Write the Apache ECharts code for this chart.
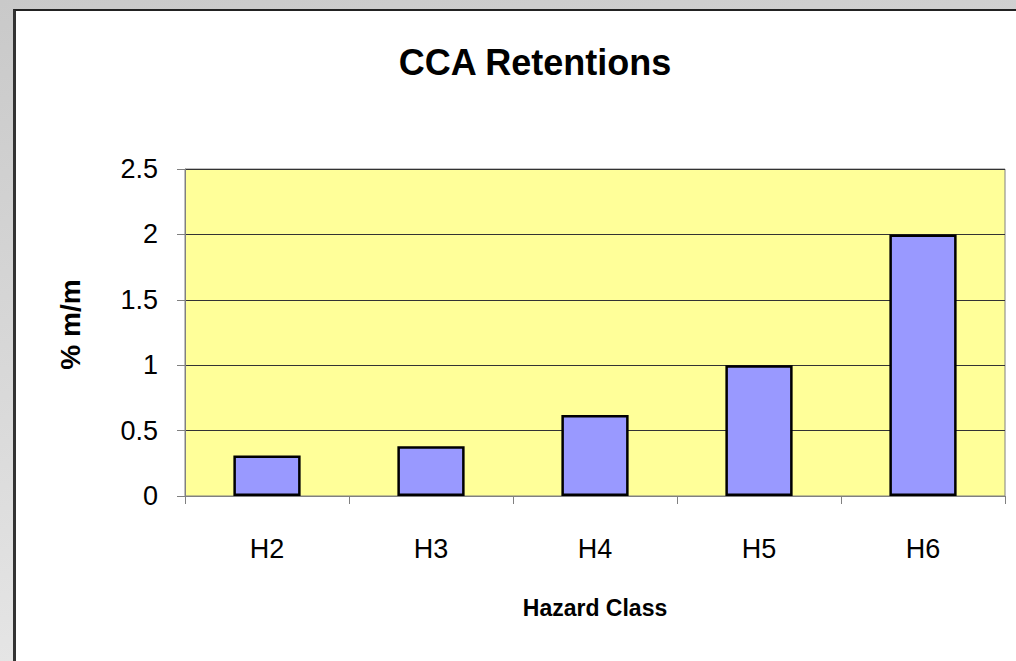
<!DOCTYPE html>
<html>
<head>
<meta charset="utf-8">
<script src="https://cdn.jsdelivr.net/npm/echarts@6/dist/echarts.min.js"></script>
<style>
html,body{margin:0;padding:0;width:1016px;height:661px;overflow:hidden;}
body{background:linear-gradient(170deg,#c9c9c9 0%,#dadada 50%,#ededed 100%);position:relative;}
#card{position:absolute;left:13px;top:9px;width:1010px;height:660px;background:#fff;border-left:3px solid #333;border-top:2px solid #222;box-sizing:border-box;}
#chart{position:absolute;left:0;top:0;width:1016px;height:661px;}
</style>
</head>
<body>
<div id="card"></div>
<div id="chart"></div>
<script>
const categories = ['H2','H3','H4','H5','H6'];
const retention = [0.31, 0.38, 0.62, 1.0, 2.0];
const yTicks = [0, 0.5, 1, 1.5, 2, 2.5];

const chart = echarts.init(document.getElementById('chart'), null, {renderer:'svg'});
const font = 'Arial, "Liberation Sans", sans-serif';
chart.setOption({
  backgroundColor: 'transparent',
  animation: false,
  title: {
    text: 'CCA Retentions',
    left: 530, top: 39, textAlign: 'center',
    textStyle: {fontFamily: font, fontWeight: 'bold', fontSize: 36, color: '#000'}
  },
  grid: {left: 185, top: 169, right: 11, bottom: 165, show: true, backgroundColor: '#FFFF99', borderColor: '#808080', borderWidth: 1},
  xAxis: {
    type: 'category', data: categories,
    name: 'Hazard Class', nameLocation: 'middle', nameGap: 100,
    nameTextStyle: {fontFamily: font, fontWeight: 'bold', fontSize: 23, color: '#000'},
    axisLine: {lineStyle: {color: '#808080', width: 1}},
    axisTick: {show: true, alignWithLabel: false, length: 8, lineStyle: {color: '#808080'}},
    axisLabel: {fontFamily: font, fontSize: 27, color: '#000', margin: 39}
  },
  yAxis: {
    type: 'value', min: yTicks[0], max: yTicks[yTicks.length-1], interval: 0.5,
    name: '% m/m', nameLocation: 'middle', nameGap: 101, nameRotate: 90,
    nameTextStyle: {fontFamily: font, fontWeight: 'bold', fontSize: 28, color: '#000', padding: [0, 0, 0, 16]},
    axisLine: {show: true, lineStyle: {color: '#808080', width: 1}},
    axisTick: {show: true, length: 8, lineStyle: {color: '#808080'}},
    splitLine: {show: true, lineStyle: {color: '#333', width: 1}},
    axisLabel: {fontFamily: font, fontSize: 27, color: '#000', margin: 27}
  },
  series: [{
    type: 'bar', data: retention, barWidth: '41%',
    itemStyle: {color: '#9999FF', borderColor: '#000', borderWidth: 2.5}
  }]
});
</script>
</body>
</html>
